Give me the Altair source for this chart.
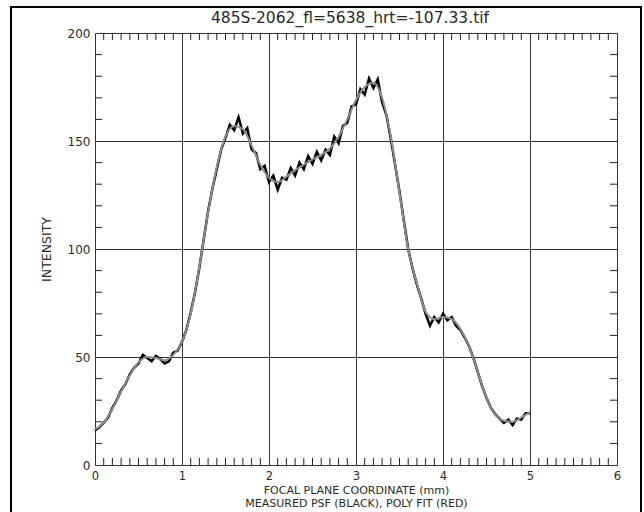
import altair as alt
import pandas as pd

# Measured PSF (black, noisy)
meas_x = [0.00, 0.05, 0.10, 0.15, 0.20, 0.25, 0.30, 0.35, 0.40, 0.45,
          0.50, 0.55, 0.60, 0.65, 0.70, 0.75, 0.80, 0.85, 0.90, 0.95,
          1.00, 1.05, 1.10, 1.15, 1.20, 1.25, 1.30, 1.35, 1.40, 1.45,
          1.50, 1.55, 1.60, 1.65, 1.70, 1.75, 1.80, 1.85, 1.90, 1.95,
          2.00, 2.05, 2.10, 2.15, 2.20, 2.25, 2.30, 2.35, 2.40, 2.45,
          2.50, 2.55, 2.60, 2.65, 2.70, 2.75, 2.80, 2.85, 2.90, 2.95,
          3.00, 3.05, 3.10, 3.15, 3.20, 3.25, 3.30, 3.35, 3.40, 3.45,
          3.50, 3.55, 3.60, 3.65, 3.70, 3.75, 3.80, 3.85, 3.90, 3.95,
          4.00, 4.05, 4.10, 4.15, 4.20, 4.25, 4.30, 4.35, 4.40, 4.45,
          4.50, 4.55, 4.60, 4.65, 4.70, 4.75, 4.80, 4.85, 4.90, 4.95, 5.00]
meas_y = [16.0, 17.5, 19.5, 22.0, 26.5, 30.0, 34.5, 37.5, 42.0, 45.0,
          47.0, 51.0, 49.5, 48.0, 50.5, 49.0, 47.0, 48.0, 52.0, 53.0,
          57.0, 62.5, 70.5, 80.0, 91.5, 104.5, 117.5, 128.0, 137.0, 146.0,
          151.5, 157.5, 155.0, 161.0, 153.5, 156.0, 146.0, 144.5, 137.0, 138.5,
          131.0, 134.0, 127.5, 133.0, 132.0, 137.5, 134.0, 140.0, 137.0, 143.0,
          139.5, 145.0, 141.0, 146.0, 143.5, 152.0, 149.0, 157.0, 158.5, 166.0,
          167.0, 174.0, 171.5, 179.0, 174.5, 178.5, 168.0, 162.0, 151.0, 139.0,
          126.5, 113.0, 100.0, 91.0, 83.5, 77.0, 70.0, 64.5, 68.5, 66.0,
          70.0, 67.0, 68.5, 64.5, 62.5, 59.0, 55.0, 49.5, 43.0, 36.5,
          31.0, 26.5, 23.5, 21.5, 19.5, 21.0, 18.5, 21.5, 21.0, 24.0, 24.0]

# Polynomial fit (drawn grey)
fit_x = [0.0, 0.1, 0.2, 0.3, 0.4, 0.5, 0.6, 0.7, 0.8, 0.9,
         1.0, 1.1, 1.2, 1.3, 1.4, 1.5, 1.6, 1.7, 1.8, 1.9,
         2.0, 2.1, 2.2, 2.3, 2.4, 2.5, 2.6, 2.7, 2.8, 2.9,
         3.0, 3.1, 3.2, 3.3, 3.4, 3.5, 3.6, 3.7, 3.8, 3.9,
         4.0, 4.1, 4.2, 4.3, 4.4, 4.5, 4.6, 4.7, 4.8, 4.9, 5.0]
fit_y = [16.5, 19.5, 26.0, 34.0, 41.5, 47.5, 50.0, 49.5, 48.5, 51.0,
         57.0, 70.0, 92.0, 117.0, 138.0, 152.0, 157.0, 155.5, 148.0, 139.0,
         133.0, 131.0, 133.5, 136.5, 139.0, 141.5, 143.5, 146.5, 152.0, 160.0,
         169.0, 175.0, 177.0, 170.0, 152.0, 126.0, 100.0, 84.0, 71.0, 67.5,
         68.5, 67.5, 63.0, 55.0, 43.0, 31.0, 23.5, 20.5, 20.0, 22.0, 24.5]

x_ticks = [0, 1, 2, 3, 4, 5, 6]
y_ticks = [0, 50, 100, 150, 200]
x_minor = [round(i / 10, 1) for i in range(1, 60) if i % 10]
y_minor = [v for v in range(10, 200, 10) if v % 50]

title_text = "485S-2062_fl=5638_hrt=-107.33.tif"
x_title = ["FOCAL PLANE COORDINATE (mm)", "MEASURED PSF (BLACK), POLY FIT (RED)"]
y_title = "INTENSITY"

FONT = "DejaVu Sans"
W, H = 522, 432
TL = 7
TXT = "#2a2a2a"

meas_df = pd.DataFrame({"x": meas_x, "y": meas_y})
fit_df = pd.DataFrame({"x": fit_x, "y": fit_y})
xm_df = pd.DataFrame({"x": x_minor})
ym_df = pd.DataFrame({"y": y_minor})

xscale = alt.Scale(domain=[0, 6], nice=False, zero=False)
yscale = alt.Scale(domain=[0, 200], nice=False)

xaxis = alt.Axis(values=x_ticks, format="d", grid=True, gridColor="#333333", gridWidth=1,
                 ticks=False, domain=False, labelPadding=5, labelFontSize=11.5, labelFont=FONT,
                 labelColor=TXT, title=x_title, titleFont=FONT, titleFontSize=11,
                 titleFontWeight="normal", titleColor=TXT, titleBaseline="top",
                 titleY=19, titleLineHeight=13, labelFlush=False)
yaxis = alt.Axis(values=y_ticks, format="d", grid=True, gridColor="#333333", gridWidth=1,
                 ticks=False, domain=False, labelPadding=5, labelFontSize=12, labelFont=FONT,
                 labelColor=TXT, title=y_title, titleFont=FONT, titleFontSize=12.5,
                 titleFontWeight="normal", titleColor=TXT, titleX=-49, titleY=H / 2,
                 titleAngle=270, titleBaseline="middle", titleAlign="center", labelFlush=False)

meas = alt.Chart(meas_df).mark_line(color="black", strokeWidth=2.5).encode(
    x=alt.X("x:Q", scale=xscale, axis=xaxis),
    y=alt.Y("y:Q", scale=yscale, axis=yaxis),
)
fit = alt.Chart(fit_df).mark_line(color="#8e8e8e", strokeWidth=2.0, interpolate="monotone").encode(
    x="x:Q", y="y:Q"
)

xb = alt.Chart(xm_df).mark_rule(color="#222222", strokeWidth=1).encode(
    x="x:Q", y=alt.value(H), y2=alt.value(H - TL))
xt = alt.Chart(xm_df).mark_rule(color="#222222", strokeWidth=1).encode(
    x="x:Q", y=alt.value(0), y2=alt.value(TL))
yl = alt.Chart(ym_df).mark_rule(color="#222222", strokeWidth=1).encode(
    y="y:Q", x=alt.value(0), x2=alt.value(TL))
yr = alt.Chart(ym_df).mark_rule(color="#222222", strokeWidth=1).encode(
    y="y:Q", x=alt.value(W), x2=alt.value(W - TL))

one = pd.DataFrame({"t": [title_text]})
title = alt.Chart(one).mark_text(font=FONT, fontSize=15.5, color=TXT,
                                 align="center", baseline="middle").encode(
    text="t:N", x=alt.value(W / 2 - 6), y=alt.value(-15))

frame = alt.Chart(pd.DataFrame({"a": [0]})).mark_rect(
    filled=False, stroke="black", strokeWidth=2).encode(
    x=alt.value(-84), x2=alt.value(546), y=alt.value(-26), y2=alt.value(495))

chart = alt.layer(meas, fit, xb, xt, yl, yr, title, frame).properties(
    width=W, height=H,
    autosize=alt.AutoSizeParams(type="none"),
    padding={"left": 95, "top": 33, "right": 27, "bottom": 47},
).configure_view(stroke="black", strokeWidth=1.2).configure(background="white")

chart.save("out.html", embed_options={"renderer": "svg", "actions": False})
